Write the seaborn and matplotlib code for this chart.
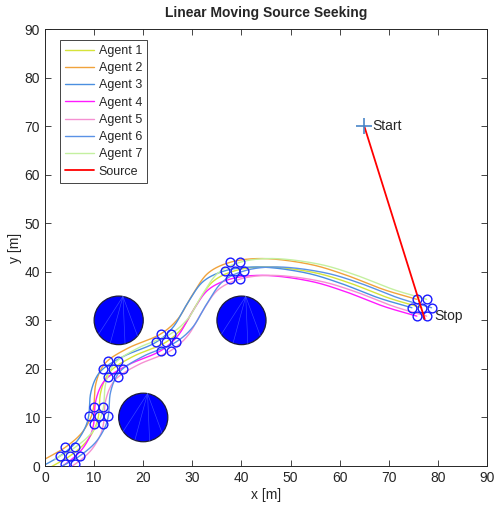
import numpy as np
import pandas as pd
import matplotlib
matplotlib.use("Agg")
import matplotlib.pyplot as plt
from matplotlib.lines import Line2D
from matplotlib.patches import Circle
import seaborn as sns

# Formation centre path (waypoints of the swarm centroid)
center_x = [1.0, 5.1, 8.4, 10.3, 10.9, 11.3, 12.4, 13.8, 18.0, 24.6, 28.0, 31.0, 34.2, 38.6, 45.0, 55.0, 62.0, 70.0, 76.7]
center_y = [-0.3, 2.1, 5.0, 8.2, 10.4, 15.0, 18.2, 20.0, 22.6, 25.5, 28.5, 33.5, 38.0, 40.2, 41.0, 39.8, 37.7, 34.6, 32.6]

# Formation centre at the sampled snapshot times
snap_x = [5.1, 10.9, 13.8, 24.6, 38.6, 76.7]
snap_y = [2.1, 10.4, 20.0, 25.5, 40.2, 32.6]

# Hexagonal formation offsets of the seven agents
agents = ["Agent 1", "Agent 2", "Agent 3", "Agent 4", "Agent 5", "Agent 6", "Agent 7"]
offset_x = [0.0, -1.0, -2.0, -1.0, 1.0, 2.0, 1.0]
offset_y = [0.0, 1.73, 0.0, -1.73, -1.73, 0.0, 1.73]
agent_colors = ["#d6e33a", "#f0a33c", "#4b8fe0", "#ff1aff", "#f590d2", "#5a92e6", "#c4f0a0"]

# Moving source
source_x = [65.0, 77.3]
source_y = [70.0, 30.3]

# Circular obstacles
obst_x = [15.0, 40.0, 20.0]
obst_y = [30.0, 30.0, 10.0]
obst_r = [5.0, 5.0, 5.0]


def catmull_rom(px, py, n=40):
    P = np.column_stack([px, py]).astype(float)
    P = np.vstack([2 * P[0] - P[1], P, 2 * P[-1] - P[-2]])
    out = []
    for i in range(len(P) - 3):
        p0, p1, p2, p3 = P[i:i + 4]
        t0 = 0.0
        t1 = t0 + np.linalg.norm(p1 - p0) ** 0.5
        t2 = t1 + np.linalg.norm(p2 - p1) ** 0.5
        t3 = t2 + np.linalg.norm(p3 - p2) ** 0.5
        t = np.linspace(t1, t2, n)[:, None]
        A1 = (t1 - t) / (t1 - t0) * p0 + (t - t0) / (t1 - t0) * p1
        A2 = (t2 - t) / (t2 - t1) * p1 + (t - t1) / (t2 - t1) * p2
        A3 = (t3 - t) / (t3 - t2) * p2 + (t - t2) / (t3 - t2) * p3
        B1 = (t2 - t) / (t2 - t0) * A1 + (t - t0) / (t2 - t0) * A2
        B2 = (t3 - t) / (t3 - t1) * A2 + (t - t1) / (t3 - t1) * A3
        out.append((t2 - t) / (t2 - t1) * B1 + (t - t1) / (t2 - t1) * B2)
    return np.vstack(out)


sns.set_style("white")
plt.rcParams["font.family"] = ["Liberation Sans", "DejaVu Sans"]

fig = plt.figure(figsize=(4.98, 5.12), dpi=100)
ax = fig.add_axes([0.0904, 0.0898, 0.8876, 0.8535])

# Obstacles with faint patch triangulation edges
for cx, cy, r in zip(obst_x, obst_y, obst_r):
    ax.add_patch(Circle((cx, cy), r, facecolor="#0000ff", edgecolor="#1c1c3c", lw=0.9, zorder=1))
    apex = np.deg2rad(80)
    for ang in [215, 250, 285, 320]:
        a = np.deg2rad(ang)
        ax.plot([cx + r * np.cos(apex), cx + r * np.cos(a)],
                [cy + r * np.sin(apex), cy + r * np.sin(a)],
                color="#4a5cff", lw=0.45, alpha=0.8, zorder=1.5)

# Agent trajectories
path = catmull_rom(center_x, center_y)
rows = []
for name, dx, dy in zip(agents, offset_x, offset_y):
    rows.append(pd.DataFrame({"x": path[:, 0] + dx, "y": path[:, 1] + dy,
                              "agent": name, "step": np.arange(len(path))}))
df = pd.concat(rows, ignore_index=True)
sns.lineplot(data=df, x="x", y="y", hue="agent", palette=agent_colors,
             sort=False, estimator=None, lw=1.0, legend=False, ax=ax, zorder=2)

# Formation snapshots
mx = [sx + dx for sx in snap_x for dx in offset_x]
my = [sy + dy for sy in snap_y for dy in offset_y]
ax.plot(mx, my, "o", ms=6.3, mfc="none", mec="#1a1aff", mew=1.0, zorder=3)

# Source motion
sns.lineplot(x=source_x, y=source_y, color="#ff0000", lw=1.3, sort=False,
             estimator=None, ax=ax, zorder=4)
ax.plot(source_x[0], source_y[0], "+", ms=11, mew=1.2, color="#4a86c8", zorder=5)
ax.text(source_x[0] + 1.6, source_y[0], "Start", fontsize=10, va="center", ha="left")
ax.text(source_x[1] + 2.0, source_y[1] + 0.6, "Stop", fontsize=10, va="center", ha="left")

ax.set_xlim(0, 90)
ax.set_ylim(0, 90)
ax.set_xticks(range(0, 91, 10))
ax.set_yticks(range(0, 91, 10))
ax.tick_params(direction="in", length=4, width=0.6, labelsize=10, colors="#262626",
               top=True, right=True, bottom=True, left=True)
for s in ax.spines.values():
    s.set_color("#262626")
    s.set_linewidth(0.7)
ax.set_xlabel("x [m]", fontsize=10, color="#262626", labelpad=2)
ax.set_ylabel("y [m]", fontsize=10, color="#262626", labelpad=2)
ax.set_title("Linear Moving Source Seeking", fontsize=10, fontweight="bold", pad=9)

handles = [Line2D([], [], color=c, lw=1.0) for c in agent_colors]
handles.append(Line2D([], [], color="#ff0000", lw=1.3))
leg = ax.legend(handles, agents + ["Source"], loc="upper left",
                bbox_to_anchor=(0.034, 0.975), fontsize=9, frameon=True,
                fancybox=False, edgecolor="#262626", framealpha=1,
                handlelength=2.3, handletextpad=0.4, labelspacing=0.42,
                borderpad=0.4, borderaxespad=0)
leg.get_frame().set_linewidth(0.6)

fig.savefig("out.png", dpi=100)
